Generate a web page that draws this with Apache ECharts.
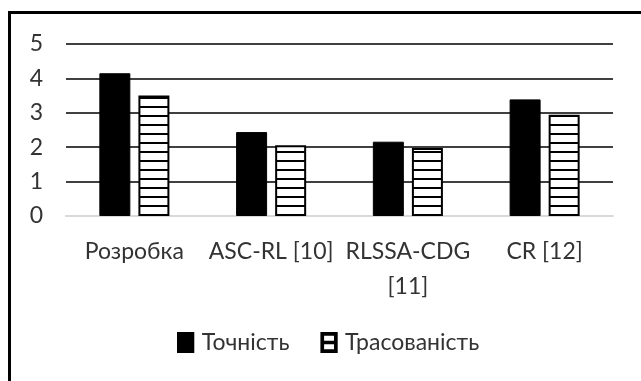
<!DOCTYPE html>
<html><head><meta charset="utf-8">
<script src="https://cdn.jsdelivr.net/npm/echarts@6/dist/echarts.min.js"></script>
<style>html,body{margin:0;padding:0;background:#fff}#c{width:641px;height:381px}</style>
</head><body><div id="c"></div>
<script>
const categories = ['Розробка', 'ASC-RL [10]', 'RLSSA-CDG\n[11]', 'CR [12]'];
const accuracy = [4.15, 2.44, 2.16, 3.39];
const traceability = [3.5, 2.06, 1.98, 2.94];
const seriesNames = ['Точність', 'Трасованість'];

const pc = document.createElement('canvas');
pc.width = 4; pc.height = 9;
const ctx = pc.getContext('2d');
ctx.fillStyle = '#fff'; ctx.fillRect(0, 0, 4, 9);
ctx.fillStyle = '#000'; ctx.fillRect(0, 7, 4, 2);

const solidIcon = 'path://M0,0L14,0L14,17L0,17Z';
const hatchIcon = 'path://M0,0L14,0L14,17L0,17Z M3,3L3,7L11,7L11,3Z M3,10L3,14L11,14L11,10Z';

const font = "Lato, 'Open Sans', sans-serif";
const chart = echarts.init(document.getElementById('c'));
chart.setOption({
  animation: false,
  graphic: [{type: 'rect', shape: {x: 9.5, y: 12.5, width: 700, height: 500}, style: {fill: 'none', stroke: '#000', lineWidth: 3}, z: 100}],
  grid: {left: 66, right: 28, top: 44, bottom: 165},
  legend: {
    top: 331, left: 177, padding: 0, itemWidth: 18, itemHeight: 21, itemGap: 31,
    textStyle: {fontFamily: font, fontSize: 23, color: '#333', padding: [0, 0, 0, 2]},
    data: [
      {name: seriesNames[0], icon: solidIcon, itemStyle: {color: '#000', borderWidth: 0}},
      {name: seriesNames[1], icon: hatchIcon, itemStyle: {color: '#000', borderWidth: 0}}
    ]
  },
  xAxis: {
    type: 'category', data: categories,
    axisLine: {lineStyle: {color: '#d9d9d9', width: 2}},
    axisTick: {show: false},
    axisLabel: {fontFamily: font, fontSize: 23, color: '#333', margin: 18, lineHeight: 35, interval: 0}
  },
  yAxis: {
    type: 'value', min: 0, max: 5, interval: 1,
    axisLine: {show: false}, axisTick: {show: false},
    axisLabel: {fontFamily: font, fontSize: 23, color: '#333', margin: 23},
    splitLine: {lineStyle: {color: ['#d9d9d9', '#404040', '#404040', '#404040', '#404040', '#404040'], width: 2}}
  },
  series: [
    {name: seriesNames[0], type: 'bar', data: accuracy, barWidth: 31, barGap: '26%',
     itemStyle: {color: '#000', borderColor: '#000', borderWidth: 1}},
    {name: seriesNames[1], type: 'bar', data: traceability, barWidth: 31,
     itemStyle: {color: {image: pc, repeat: 'repeat'}, borderColor: '#000', borderWidth: 2}}
  ]
});
</script></body></html>
